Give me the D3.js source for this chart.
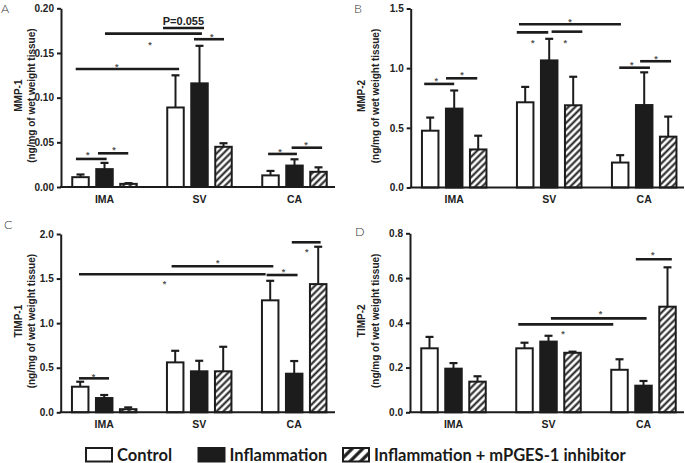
<!DOCTYPE html>
<html><head><meta charset="utf-8">
<script src="https://cdn.jsdelivr.net/npm/d3@7"></script>
<style>body{margin:0;background:#fff}svg{display:block}</style>
</head><body><svg id="chart" width="685" height="463"></svg>
<script>
// ---------- data ----------
const groups = ["IMA", "SV", "CA"];
const series = ["Control", "Inflammation", "Inflammation + mPGES-1 inhibitor"];

// means per group [Control, Inflammation, Inflammation + inhibitor]
const mmp1Mean = [[0.011, 0.020, 0.0035], [0.089, 0.116, 0.045], [0.013, 0.024, 0.017]];
const mmp1Sem  = [[0.003, 0.007, 0.0008], [0.036, 0.042, 0.004], [0.005, 0.007, 0.005]];
const mmp2Mean = [[0.476, 0.661, 0.319], [0.714, 1.065, 0.689], [0.209, 0.691, 0.426]];
const mmp2Sem  = [[0.110, 0.152, 0.115], [0.129, 0.181, 0.239], [0.062, 0.274, 0.168]];
const timp1Mean = [[0.287, 0.160, 0.035], [0.560, 0.460, 0.460], [1.256, 0.433, 1.438]];
const timp1Sem  = [[0.056, 0.034, 0.020], [0.130, 0.118, 0.275], [0.219, 0.142, 0.419]];
const timp2Mean = [[0.286, 0.195, 0.137], [0.286, 0.316, 0.266], [0.190, 0.119, 0.472]];
const timp2Sem  = [[0.051, 0.025, 0.024], [0.025, 0.026, 0.005], [0.047, 0.021, 0.176]];

const mmp1Ticks = [0, 0.05, 0.10, 0.15, 0.20];
const mmp2Ticks = [0, 0.5, 1.0, 1.5];
const timp1Ticks = [0, 0.5, 1.0, 1.5, 2.0];
const timp2Ticks = [0, 0.2, 0.4, 0.6, 0.8];

// significance bars: [group1, barPos1, group2, barPos2, value, starGroup, starPos, starValue]
const mmp1Sig = [
  [0, -0.19, 0, 1.09, 0.0314, 0, 0.30, 0.038],
  [0, 0.73, 0, 1.99, 0.0377, 0, 1.40, 0.044],
  [0, -0.20, 1, 0.15, 0.1321, 0, 1.51, 0.1366],
  [0, 1.02, 1, 1.10, 0.1717, 0, 2.90, 0.161],
  [1, 0.77, 1, 2.02, 0.1654, 1, 1.51, 0.1705],
  [2, -0.10, 2, 1.10, 0.0370, 2, 0.40, 0.0414],
  [2, 0.88, 2, 2.15, 0.0440, 2, 1.48, 0.0493]
];
const mmp1Trend = [[1, -0.52, 1, 1.19, 0.178, 1, 0.33, 0.1817, "P=0.055"]];
const mmp2Sig = [
  [0, -0.25, 0, 1.00, 0.868, 0, 0.25, 0.907],
  [0, 0.66, 0, 1.96, 0.915, 0, 1.33, 0.957],
  [1, -0.26, 2, 0.03, 1.368, 1, 1.87, 1.404],
  [1, -0.35, 1, 0.96, 1.300, 1, 0.31, 1.228],
  [1, 1.10, 1, 2.38, 1.306, 1, 1.67, 1.228],
  [2, -0.04, 2, 1.24, 1.004, 2, 0.48, 1.041],
  [2, 0.83, 2, 2.12, 1.058, 2, 1.49, 1.096]
];
const timp1Sig = [
  [0, -0.05, 0, 1.20, 0.381, 0, 0.55, 0.418],
  [0, -0.05, 2, -0.19, 1.548, 1, -0.45, 1.465],
  [1, -0.15, 2, 0.13, 1.638, 1, 1.77, 1.700],
  [2, -0.15, 2, 1.14, 1.540, 2, 0.55, 1.596],
  [2, 0.90, 2, 2.10, 1.907, 2, 1.52, 1.828]
];
const timp2Sig = [
  [1, -0.26, 2, -0.26, 0.393, 1, 1.60, 0.360],
  [1, 1.10, 2, 1.13, 0.420, 1, 3.17, 0.447],
  [2, 0.68, 2, 2.18, 0.684, 2, 1.39, 0.711]
];

// ---------- layout ----------
const panels = [
  {letter: "A", lx: 1, ly: 13, name: "MMP-1", mean: mmp1Mean, sem: mmp1Sem, ticks: mmp1Ticks, fmt: ".2f",
   ax: 61, xEnd: 335, y0: 187, yTop: 8.3, tx: [18, 31], sig: mmp1Sig, trend: mmp1Trend},
  {letter: "B", lx: 354, ly: 13, name: "MMP-2", mean: mmp2Mean, sem: mmp2Sem, ticks: mmp2Ticks, fmt: ".1f",
   ax: 410.7, xEnd: 684, y0: 187.5, yTop: 8.5, tx: [361, 375], sig: mmp2Sig, trend: []},
  {letter: "C", lx: 4, ly: 229, name: "TIMP-1", mean: timp1Mean, sem: timp1Sem, ticks: timp1Ticks, fmt: ".1f",
   ax: 60.7, xEnd: 335, y0: 412.3, yTop: 234, tx: [18, 31], sig: timp1Sig, trend: []},
  {letter: "D", lx: 355, ly: 236, name: "TIMP-2", mean: timp2Mean, sem: timp2Sem, ticks: timp2Ticks, fmt: ".1f",
   ax: 410, xEnd: 684, y0: 412.3, yTop: 233.3, tx: [361, 375], sig: timp2Sig, trend: []}
];

const INK = "#1c1c1c";
const AX_FONT = "'Liberation Sans', Arial, sans-serif";
const svg = d3.select("#chart");

const defs = svg.append("defs");
function hatch(id, size, sw) {
  const p = defs.append("pattern").attr("id", id).attr("patternUnits", "userSpaceOnUse")
    .attr("width", size).attr("height", size).attr("patternTransform", "rotate(45)");
  p.append("rect").attr("width", size).attr("height", size).attr("fill", "#fff");
  p.append("line").attr("x1", size / 2).attr("x2", size / 2).attr("y1", 0).attr("y2", size)
    .attr("stroke", INK).attr("stroke-width", sw);
}
hatch("hatch", 4.8, 2);
hatch("hatchL", 7.5, 3.2);
const fills = ["#fff", INK, "url(#hatch)"];

panels.forEach(P => {
  const g = svg.append("g");
  const y = d3.scaleLinear().domain([0, d3.max(P.ticks)]).range([P.y0, P.yTop]);
  const x0 = d3.scaleBand().domain(groups).range([P.ax - 4, P.ax - 4 + 285]);
  const x1 = d3.scaleBand().domain(series).range([11.5, 83.5]).paddingInner(0.3125).paddingOuter(0.15625);
  const barX = (gi, p) => x0(groups[gi]) + x1(series[0]) + x1.bandwidth() / 2 + p * x1.step();

  // bars
  groups.forEach((grp, gi) => {
    series.forEach((s, si) => {
      const m = P.mean[gi][si], e = P.sem[gi][si];
      const cx = x0(grp) + x1(s) + x1.bandwidth() / 2;
      g.append("line").attr("x1", cx).attr("x2", cx).attr("y1", y(m)).attr("y2", y(m + e))
        .attr("stroke", INK).attr("stroke-width", 2);
      g.append("line").attr("x1", cx - 4).attr("x2", cx + 4).attr("y1", y(m + e)).attr("y2", y(m + e))
        .attr("stroke", INK).attr("stroke-width", 2.2);
      g.append("rect").attr("x", x0(grp) + x1(s)).attr("width", x1.bandwidth())
        .attr("y", y(m)).attr("height", y(0) - y(m))
        .attr("fill", fills[si]).attr("stroke", INK).attr("stroke-width", 2);
    });
  });

  // y axis
  const yAxis = d3.axisLeft(y).tickValues(P.ticks).tickFormat(d3.format(P.fmt)).tickSize(4).tickPadding(3).tickSizeOuter(0);
  const ya = g.append("g").attr("transform", `translate(${P.ax},0)`).call(yAxis);
  ya.select(".domain").attr("stroke", INK).attr("stroke-width", 2);
  ya.selectAll(".tick line").attr("stroke", INK).attr("stroke-width", 2);
  ya.selectAll(".tick text").attr("font-family", AX_FONT).attr("font-weight", "bold")
    .attr("font-size", 10).attr("fill", "#222");

  // x axis
  const xAxis = d3.axisBottom(x0).tickSize(0).tickPadding(8.5).tickSizeOuter(0);
  const xa = g.append("g").attr("transform", `translate(0,${P.y0})`).call(xAxis);
  xa.select(".domain").attr("d", `M${P.ax - 1},0H${P.xEnd}`).attr("stroke", INK).attr("stroke-width", 2);
  xa.selectAll(".tick text").attr("font-family", AX_FONT).attr("font-weight", "bold")
    .attr("font-size", 10.5).attr("fill", "#222");

  // y title
  const yc = (P.y0 + P.yTop) / 2 - 2;
  [P.name, "(ng/mg of wet weight tissue)"].forEach((t, i) => {
    g.append("text").attr("transform", `translate(${P.tx[i] + 3.6},${yc}) rotate(-90)`)
      .attr("text-anchor", "middle").attr("font-family", AX_FONT).attr("font-weight", "bold")
      .attr("font-size", 10).attr("fill", "#222").text(t);
  });

  // panel letter
  g.append("text").attr("x", P.lx).attr("y", P.ly).attr("font-family", "Lato, 'Open Sans', sans-serif")
    .attr("font-weight", 300).attr("font-size", 12.5).attr("fill", "#333").text(P.letter);

  // significance
  P.sig.forEach(s => {
    g.append("line").attr("x1", barX(s[0], s[1])).attr("x2", barX(s[2], s[3]))
      .attr("y1", y(s[4])).attr("y2", y(s[4])).attr("stroke", INK).attr("stroke-width", 2.6);
    g.append("text").attr("x", barX(s[5], s[6])).attr("y", y(s[7]) + 5.2).attr("text-anchor", "middle")
      .attr("font-family", AX_FONT).attr("font-weight", "bold").attr("font-size", 9).attr("fill", "#555").text("*");
  });
  P.trend.forEach(s => {
    g.append("line").attr("x1", barX(s[0], s[1])).attr("x2", barX(s[2], s[3]))
      .attr("y1", y(s[4])).attr("y2", y(s[4])).attr("stroke", INK).attr("stroke-width", 2.6);
    g.append("text").attr("x", barX(s[5], s[6])).attr("y", y(s[7])).attr("text-anchor", "middle")
      .attr("font-family", AX_FONT).attr("font-weight", "bold").attr("font-size", 11).attr("fill", "#222").text(s[8]);
  });
});

// legend
const legX = [86, 198.5, 343];
const legFills = ["#fff", INK, "url(#hatchL)"];
const lg = svg.append("g");
series.forEach((s, i) => {
  lg.append("rect").attr("x", legX[i]).attr("y", 448).attr("width", 26).attr("height", 13.5)
    .attr("fill", legFills[i]).attr("stroke", INK).attr("stroke-width", 2);
  lg.append("text").attr("x", legX[i] + 31).attr("y", 460.5).attr("font-family", "Lato, 'Open Sans', sans-serif")
    .attr("font-weight", "bold").attr("font-size", 16.5).attr("fill", "#1a1a1a").text(s);
});
</script></body></html>
